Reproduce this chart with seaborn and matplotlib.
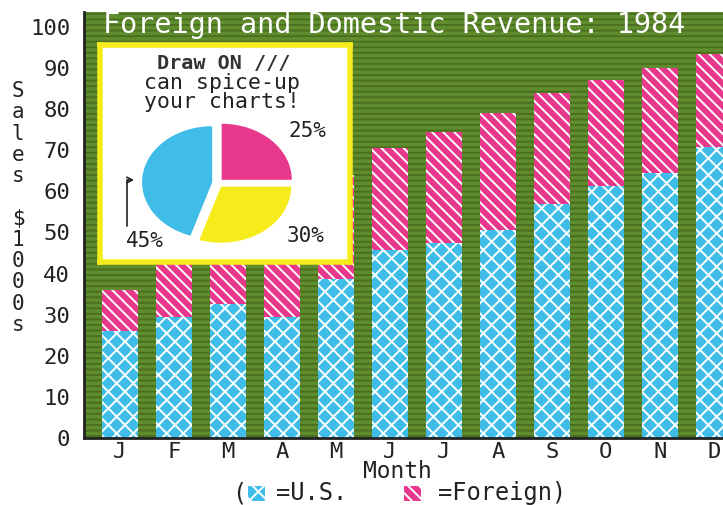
import matplotlib.pyplot as plt
import matplotlib.patches as mpatches
import seaborn as sns
import pandas as pd

# monthly sales, $1000s (Feb-May totals sit behind the inset box, estimated)
months = ["Jan", "Feb", "Mar", "Apr", "May", "Jun",
          "Jul", "Aug", "Sep", "Oct", "Nov", "Dec"]
month_ticks = ["J", "F", "M", "A", "M", "J", "J", "A", "S", "O", "N", "D"]
us_sales = [26, 29.5, 32.5, 29.5, 38.7, 45.7, 47.5, 50.6, 57, 61.3, 64.5, 70.8]
foreign_sales = [10, 15.5, 18.5, 27.5, 25.3, 24.9, 27, 28.4, 27, 25.7, 25.5, 22.6]
y_ticks = [0, 10, 20, 30, 40, 50, 60, 70, 80, 90, 100]

# the little pie in the inset
pie_shares = [25, 45, 30]
pie_labels = ["25%", "45%", "30%"]

CYAN = "#3fbde8"
MAGENTA = "#e8388c"
YELLOW = "#f6ec1c"
GREEN = "#5f8c2c"
INK = "#222222"

df = pd.DataFrame({"month": months, "us": us_sales, "foreign": foreign_sales})
df["total"] = df["us"] + df["foreign"]

sns.set_style("white")
plt.rcParams["font.family"] = ["DejaVu Sans Mono", "DejaVu Sans"]
plt.rcParams["hatch.linewidth"] = 1.4

W, H = 723, 505
fig = plt.figure(figsize=(W / 100, H / 100), dpi=100)
ax = fig.add_axes([84 / W, 1 - 438 / H, 1 - 84 / W, 426 / H])
ax.set_facecolor(GREEN)
# rough scanline texture on the green
ax.add_patch(mpatches.Rectangle((0, 0), 1, 1, transform=ax.transAxes,
                                facecolor="none", edgecolor="#496f1f",
                                hatch="---", linewidth=0, zorder=0.5))

# stacked bars: full total in magenta, US part painted over it
sns.barplot(data=df, x="month", y="total", color=MAGENTA, saturation=1,
            width=0.67, errorbar=None, hatch="\\\\\\", edgecolor="white",
            linewidth=0, ax=ax)
sns.barplot(data=df, x="month", y="us", color=CYAN, saturation=1,
            width=0.67, errorbar=None, hatch="xx", edgecolor="white",
            linewidth=0, ax=ax)

ax.set_xlim(-0.667, 11.17)
ax.set_ylim(0, 103.6)
ax.set_yticks(y_ticks)
ax.set_xticks(range(len(month_ticks)))
ax.set_xticklabels(month_ticks)
ax.set_xlabel("")
ax.set_ylabel("")
ax.tick_params(axis="y", length=9, width=1.5, direction="out", pad=1,
               labelsize=16, colors=INK)
ax.tick_params(axis="x", length=0, pad=3, labelsize=16, colors=INK)
for s in ["top", "right"]:
    ax.spines[s].set_visible(False)
for s in ["left", "bottom"]:
    ax.spines[s].set_color(INK)
    ax.spines[s].set_linewidth(2)

ax.text((103 - 84) / (W - 84), 1 - 13 / 426,
        "Foreign and Domestic Revenue: 1984",
        transform=ax.transAxes, color="white", fontsize=20.5,
        ha="left", va="center", zorder=5)

# inset box
box = fig.add_axes([100 / W, 1 - 262 / H, 250 / W, 217 / H])
box.set_zorder(3)
box.set_facecolor("white")
box.set_xlim(100, 350)
box.set_ylim(262, 45)
box.set_xticks([])
box.set_yticks([])
for s in box.spines.values():
    s.set_color(YELLOW)
    s.set_linewidth(4)
box.text(224, 63, "Draw ON ///", ha="center", va="center", fontsize=14.5,
         fontweight="bold", color="#333333")
box.text(222, 83, "can spice-up", ha="center", va="center", fontsize=15.5,
         color=INK)
box.text(222, 102, "your charts!", ha="center", va="center", fontsize=15.5,
         color=INK)
box.text(307, 131, pie_labels[0], ha="center", va="center", fontsize=15,
         color=INK)
box.text(145, 241, pie_labels[1], ha="center", va="center", fontsize=15,
         color=INK)
box.text(305, 236, pie_labels[2], ha="center", va="center", fontsize=15,
         color=INK)
box.annotate("", xy=(137, 180), xytext=(127, 229),
             arrowprops=dict(arrowstyle="->", color=INK, lw=1.2,
                             connectionstyle="angle,angleA=90,angleB=0,rad=0"))

pie_ax = fig.add_axes([142 / W, 1 - 243 / H, 150 / W, 120 / H])
pie_ax.set_zorder(4)
pie_ax.pie(pie_shares, colors=[MAGENTA, CYAN, YELLOW], startangle=0,
           explode=[0.08, 0.08, 0.08], wedgeprops=dict(linewidth=0))
pie_ax.set_aspect("auto")
pie_ax.set_xlim(-1.08, 1.06)
pie_ax.set_ylim(-1.07, 1.07)

# axis titles
fig.text(18 / W, 1 - 208 / H, "S\na\nl\ne\ns\n\n$\n1\n0\n0\n0\ns",
         ha="center", va="center", fontsize=15, linespacing=1.08,
         color=INK)
fig.text(397 / W, 1 - 472 / H, "Month", ha="center", va="center",
         fontsize=16.5, color=INK)

# legend line: ( [] =U.S.   [] =Foreign)
fig.text(232 / W, 1 - 493 / H, "(", ha="left", va="center", fontsize=17,
         color=INK)
fig.text(276 / W, 1 - 493 / H, "=U.S.", ha="left", va="center", fontsize=17,
         color=INK)
fig.text(438 / W, 1 - 493 / H, "=Foreign)", ha="left", va="center",
         fontsize=17, color=INK)
for x0, col, hat in [(248, CYAN, "xx"), (404, MAGENTA, "\\\\\\")]:
    fig.add_artist(mpatches.Rectangle((x0 / W, 1 - 501 / H), 17 / W, 15 / H,
                                      transform=fig.transFigure,
                                      facecolor=col, edgecolor="white",
                                      hatch=hat, linewidth=0))

fig.savefig("out.png", dpi=100)
